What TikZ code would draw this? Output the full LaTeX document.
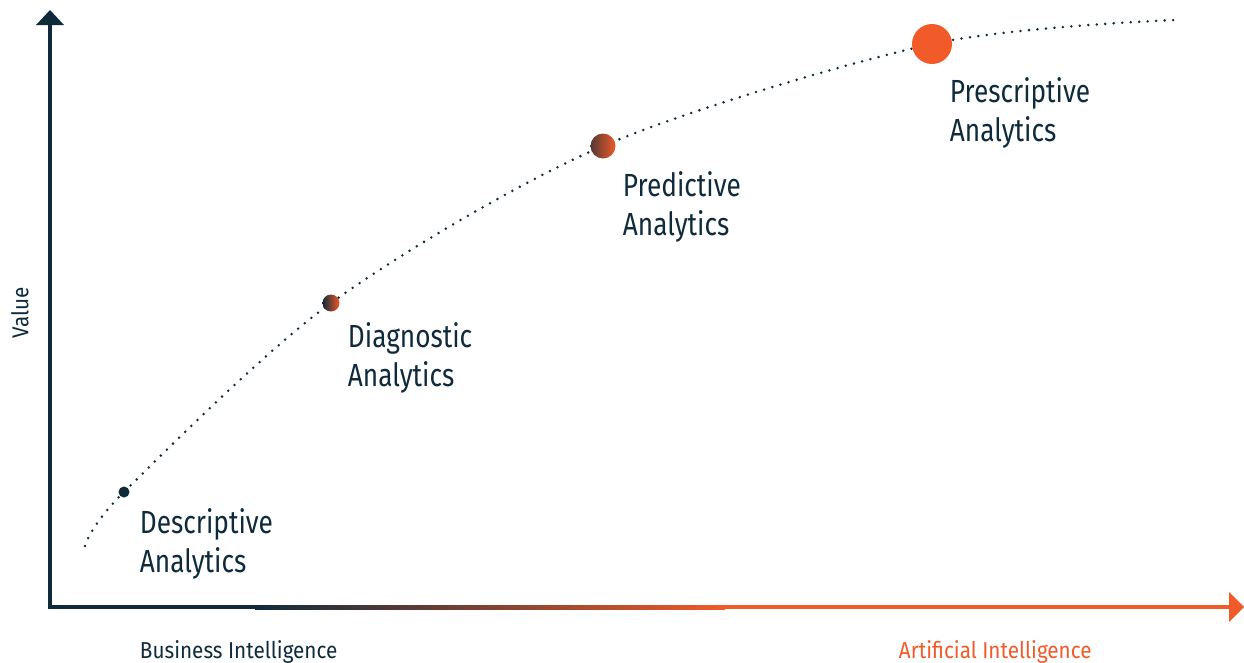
\documentclass[tikz,border=0pt]{standalone}
\usepackage{fontspec}
\setmainfont[FakeStretch=0.82]{Fira Sans}
\newfontfamily\axisfont[FakeStretch=0.9]{Fira Sans}
\usetikzlibrary{positioning}
\definecolor{inkdark}{HTML}{0F2B3B}
\definecolor{flame}{HTML}{F15A29}

\begin{document}
\begin{tikzpicture}[x=1pt,y=-1pt,
    stage/.style={anchor=north west,inner sep=0.75pt,align=left,text=inkdark,font=\fontsize{32}{39}\selectfont},
    axislabel/.style={inner sep=0.75pt,font=\axisfont\fontsize{23}{27}\selectfont},
    dot/.style={circle,inner sep=0pt}]
    \useasboundingbox (0,0) rectangle (1244,662);
    % Axes
    \coordinate (origin) at (50,607);
    \coordinate (ytip) at (50,10);
    \coordinate (xtip) at (1244,607);
    \draw [inkdark,line width=4] (origin) -- (50,24);
    \fill [inkdark] (ytip) -- (64,25) -- (36,25) -- cycle;
    \shade [left color=inkdark,right color=flame] (255,605) rectangle (725,609);
    \fill [inkdark] (48,605) rectangle (262,609);
    \fill [flame] (718,605) rectangle (1230,609);
    \fill [flame] (xtip) -- (1229,592) -- (1229,622) -- cycle;
    % Dotted curve
    \draw [inkdark,line width=2.8,line cap=round,dash pattern=on 0pt off 8.5pt] plot [smooth,tension=0.5] coordinates {(85,546) (124,492) (331,303) (603,146) (932,44) (1175,20)};
    % Stages
    \node [dot,fill=inkdark,minimum size=11] (descr) at (124,492) {};
    \node [dot,left color=inkdark,right color=flame,minimum size=17] (diag) at (331,303) {};
    \node [dot,left color=inkdark!70!flame,right color=flame,minimum size=25] (pred) at (603,146) {};
    \node [dot,fill=flame,minimum size=40] (presc) at (932,44) {};
    % Text Node
    \node [stage] (descrlabel) at (139,508) {Descriptive\\Analytics};
    % Text Node
    \node [stage] (diaglabel) at (347,322) {Diagnostic\\Analytics};
    % Text Node
    \node [stage] (predlabel) at (622,171) {Predictive\\Analytics};
    % Text Node
    \node [stage] (presclabel) at (949,77) {Prescriptive\\Analytics};
    % Text Node
    \node [axislabel,anchor=base west,text=inkdark] (bi) at (139,658) {Business Intelligence};
    % Text Node
    \node [axislabel,anchor=base west,text=flame] (ai) at (898,658) {Artificial Intelligence};
    % Text Node
    \node [axislabel,rotate=90,text=inkdark] (value) at (20,313) {Value};
\end{tikzpicture}
\end{document}
